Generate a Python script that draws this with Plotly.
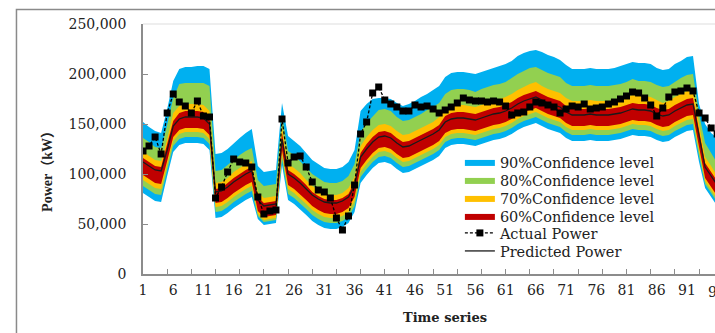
import numpy as np
import plotly.graph_objects as go

# ---------------- data (thousands of kW) ----------------
time_index = list(range(1, 97))
x_label_values = [1, 6, 11, 16, 21, 26, 31, 36, 41, 46, 51, 56, 61, 66, 71, 76, 81, 86, 91]

actual_power = [
    123, 128, 137, 120, 161, 180, 172, 168, 161, 173,
    158, 157, 76, 87, 102, 115, 112, 111, 107, 77,
    60, 63, 64, 155, 111, 117, 118, 107, 92, 84,
    82, 76, 56, 44, 58, 89, 140, 152, 181, 187,
    174, 170, 167, 163, 163, 169, 167, 168, 165, 161,
    164, 167, 171, 176, 174, 173, 173, 172, 173, 172,
    168, 159, 161, 162, 167, 172, 171, 169, 167, 161,
    165, 168, 167, 170, 165, 166, 167, 170, 172, 175,
    178, 182, 181, 176, 169, 158, 166, 177, 182, 183,
    186, 183, 161, 156, 146, 140]

predicted_power = [
    112, 108, 104, 103, 124, 148, 155, 157, 157, 157,
    156, 150, 82, 83, 87, 92, 96, 100, 103, 74,
    68, 69, 70, 135, 100, 96, 91, 85, 79, 75,
    72, 71, 71, 73, 77, 88, 117, 125, 132, 137,
    138, 136, 131, 127, 128, 131, 134, 137, 140, 144,
    152, 155, 156, 156, 155, 154, 156, 158, 160, 161,
    163, 166, 170, 173, 175, 177, 174, 171, 169, 167,
    162, 159, 159, 159, 160, 159, 159, 159, 160, 161,
    163, 165, 164, 164, 163, 160, 158, 159, 163, 166,
    169, 170, 138, 107, 98, 89]

upper_90 = [
    152, 147, 143, 141, 165, 193, 205, 207, 207, 208,
    208, 205, 120, 121, 125, 131, 136, 141, 145, 108,
    102, 103, 104, 171, 138, 133, 128, 121, 114, 110,
    106, 105, 105, 107, 112, 124, 163, 170, 175, 176,
    176, 175, 171, 168, 170, 173, 177, 180, 184, 188,
    197, 201, 202, 202, 201, 200, 202, 204, 206, 208,
    210, 213, 218, 221, 223, 224, 222, 219, 217, 214,
    209, 205, 205, 205, 206, 205, 205, 205, 206, 208,
    210, 212, 211, 211, 210, 206, 204, 205, 210, 213,
    217, 218, 170, 150, 141, 136]
lower_90 = [
    81, 77, 73, 72, 98, 122, 129, 131, 131, 131,
    130, 124, 56, 57, 61, 66, 70, 74, 77, 55,
    49, 50, 51, 109, 74, 70, 65, 59, 53, 49,
    46, 45, 45, 47, 51, 62, 91, 99, 106, 111,
    112, 110, 105, 101, 102, 105, 108, 111, 114, 118,
    126, 129, 130, 130, 129, 128, 130, 132, 134, 135,
    137, 140, 144, 147, 149, 151, 148, 145, 143, 141,
    136, 133, 133, 133, 134, 133, 133, 133, 134, 135,
    137, 139, 138, 138, 137, 134, 132, 133, 137, 140,
    143, 144, 112, 86, 77, 68]

upper_80 = [
    136, 132, 127, 126, 149, 176, 190, 191, 191, 191,
    191, 188, 103, 104, 109, 114, 119, 123, 126, 94,
    88, 89, 90, 158, 123, 119, 113, 107, 100, 96,
    92, 91, 91, 93, 98, 110, 142, 151, 158, 164,
    165, 163, 157, 153, 154, 157, 160, 164, 167, 171,
    180, 184, 185, 185, 184, 182, 185, 187, 189, 190,
    192, 196, 200, 203, 206, 207, 204, 201, 199, 197,
    191, 188, 188, 188, 189, 188, 188, 188, 189, 190,
    192, 195, 193, 193, 192, 189, 187, 188, 192, 196,
    199, 200, 160, 131, 121, 111]
lower_80 = [
    88, 84, 80, 79, 104, 128, 135, 137, 137, 137,
    136, 130, 62, 63, 67, 72, 76, 80, 83, 58,
    52, 53, 54, 115, 80, 76, 71, 65, 59, 55,
    52, 51, 51, 53, 57, 68, 97, 105, 112, 117,
    118, 116, 111, 107, 108, 111, 114, 117, 120, 124,
    132, 135, 136, 136, 135, 134, 136, 138, 140, 141,
    143, 146, 150, 153, 155, 157, 154, 151, 149, 147,
    142, 139, 139, 139, 140, 139, 139, 139, 140, 141,
    143, 145, 144, 144, 143, 140, 138, 139, 143, 146,
    149, 150, 118, 90, 81, 72]

upper_70 = [
    123, 118, 114, 113, 135, 161, 168, 170, 170, 170,
    169, 163, 91, 92, 96, 102, 106, 110, 113, 82,
    76, 77, 78, 147, 110, 106, 101, 94, 88, 84,
    80, 79, 79, 81, 86, 97, 128, 137, 144, 149,
    150, 148, 143, 139, 140, 143, 146, 149, 152, 157,
    165, 168, 169, 169, 168, 167, 169, 171, 174, 175,
    177, 180, 184, 187, 190, 192, 188, 185, 183, 181,
    176, 173, 173, 173, 174, 173, 173, 173, 174, 175,
    177, 179, 178, 178, 177, 174, 171, 173, 177, 180,
    183, 184, 150, 117, 108, 98]
lower_70 = [
    94, 90, 86, 85, 109, 133, 140, 142, 142, 142,
    141, 135, 67, 68, 72, 77, 81, 85, 88, 60,
    54, 55, 56, 120, 85, 81, 76, 70, 64, 60,
    57, 56, 56, 58, 62, 73, 102, 110, 117, 122,
    123, 121, 116, 112, 113, 116, 119, 122, 125, 129,
    137, 140, 141, 141, 140, 139, 141, 143, 145, 146,
    148, 151, 155, 158, 160, 162, 159, 156, 154, 152,
    147, 144, 144, 144, 145, 144, 144, 144, 145, 146,
    148, 150, 149, 149, 148, 145, 143, 144, 148, 151,
    154, 155, 123, 93, 84, 75]

upper_60 = [
    116, 112, 108, 107, 129, 153, 161, 163, 163, 163,
    162, 156, 85, 86, 91, 96, 100, 104, 107, 77,
    71, 72, 73, 141, 104, 100, 95, 89, 82, 78,
    75, 74, 74, 76, 80, 92, 121, 130, 137, 142,
    143, 141, 136, 132, 133, 136, 139, 142, 145, 149,
    158, 161, 162, 162, 161, 160, 162, 164, 166, 167,
    169, 172, 176, 179, 181, 183, 180, 177, 175, 173,
    168, 165, 165, 165, 166, 165, 165, 165, 166, 167,
    169, 171, 170, 170, 169, 166, 164, 165, 169, 172,
    175, 176, 143, 111, 102, 93]
lower_60 = [
    99, 95, 91, 90, 113, 137, 144, 146, 146, 146,
    145, 139, 71, 72, 76, 81, 85, 89, 92, 63,
    57, 58, 59, 124, 89, 85, 80, 74, 68, 64,
    61, 60, 60, 62, 66, 77, 106, 114, 121, 126,
    127, 125, 120, 116, 117, 120, 123, 126, 129, 133,
    141, 144, 145, 145, 144, 143, 145, 147, 149, 150,
    152, 155, 159, 162, 164, 166, 163, 160, 158, 156,
    151, 148, 148, 148, 149, 148, 148, 148, 149, 150,
    152, 154, 153, 153, 152, 149, 147, 148, 152, 155,
    158, 159, 127, 96, 87, 78]

# ---------------- styling ----------------
FONT = "DejaVu Serif"
TXT = "#222222"
AXIS = "#8c8c8c"


def kw(values):
    return np.asarray(values, dtype=float) * 1000.0


t = np.asarray(time_index, dtype=float)
fig = go.Figure()

bands = [
    ("90%Confidence level", upper_90, lower_90, "#00B0F0", "legend"),
    ("80%Confidence level", upper_80, lower_80, "#92D050", "legend2"),
    ("70%Confidence level", upper_70, lower_70, "#FFC000", "legend3"),
    ("60%Confidence level", upper_60, lower_60, "#C00000", "legend4"),
]
for name, up, lo, col, leg in bands:
    fig.add_trace(go.Scatter(
        x=np.concatenate([t, t[::-1]]),
        y=np.concatenate([kw(up), kw(lo)[::-1]]),
        fill="toself", fillcolor=col, mode="lines",
        line=dict(width=0, color=col), name=name, legend=leg,
        hoverinfo="skip"))

fig.add_trace(go.Scatter(
    x=t, y=kw(predicted_power), mode="lines", name="Predicted Power",
    line=dict(color="#1a1a1a", width=1.3), legend="legend6"))
fig.add_trace(go.Scatter(
    x=t, y=kw(actual_power), mode="lines+markers", name="Actual Power",
    line=dict(color="black", width=1.3, dash="3px,2px"),
    marker=dict(symbol="square", size=7, color="black"),
    legend="legend5"))

# invisible trace to carry the label axis
fig.add_trace(go.Scatter(x=[1], y=[None], xaxis="x2", showlegend=False,
                         hoverinfo="skip", mode="markers"))

xr = [1, 95.64]
fig.update_layout(
    width=715, height=333,
    margin=dict(l=143, r=0, t=24, b=59),
    paper_bgcolor="white", plot_bgcolor="white",
    xaxis=dict(range=xr, tickmode="linear", tick0=5, dtick=4,
               showticklabels=False, ticks="inside", ticklen=5,
               tickcolor=AXIS, tickwidth=1, showline=True, linecolor=AXIS,
               linewidth=1.5, showgrid=False, zeroline=False),
    xaxis2=dict(range=xr, overlaying="x", anchor="y", side="bottom",
                tickmode="array", tickvals=x_label_values,
                ticktext=[str(v) for v in x_label_values],
                ticks="", showline=False, showgrid=False, zeroline=False,
                tickfont=dict(family=FONT, size=14, color=TXT),
                ticklabelstandoff=6),
    yaxis=dict(range=[0, 250000], tickmode="linear", tick0=0, dtick=50000,
               tickformat=",", ticks="inside", ticklen=5, tickcolor=AXIS,
               showline=True, linecolor=AXIS, linewidth=1.5,
               showgrid=False, zeroline=False,
               tickfont=dict(family=FONT, size=14, color=TXT),
               ticklabelstandoff=12),
)

leg_common = dict(xanchor="left", yanchor="middle", bgcolor="rgba(0,0,0,0)",
                  font=dict(family=FONT, size=14.5, color=TXT), borderwidth=0)
rows = [0.448, 0.376, 0.304, 0.232, 0.164, 0.092]
names = ["legend", "legend2", "legend3", "legend4", "legend5", "legend6"]
fig.update_layout(**{n: dict(x=0.554, y=r, **leg_common) for n, r in zip(names, rows)})

fig.add_annotation(text="<b>Power（kW）</b>", xref="paper", yref="paper",
                   x=-0.168, y=0.424, textangle=-90, showarrow=False,
                   xanchor="center", yanchor="middle",
                   font=dict(family="Liberation Serif, Noto Sans CJK SC", size=14, color=TXT))
fig.add_annotation(text="<b>Time series</b>", xref="paper", yref="paper",
                   x=0.528, y=-0.172, showarrow=False,
                   xanchor="center", yanchor="middle",
                   font=dict(family=FONT, size=13, color=TXT))
fig.add_annotation(text="96", xref="paper", yref="paper", x=1.003, y=-0.07,
                   showarrow=False, xanchor="center", yanchor="middle",
                   font=dict(family=FONT, size=14, color=TXT))

fig.add_shape(type="rect", xref="paper", yref="paper", x0=-0.2212, x1=1.3,
              y0=-0.6, y1=1.058, line=dict(color="#8a8a8a", width=1.5),
              fillcolor="rgba(0,0,0,0)", layer="below")
fig.add_shape(type="line", xref="paper", yref="paper", x0=0, x1=1.2, y0=1, y1=1,
              line=dict(color="#eeeeee", width=2), layer="below")

fig.write_html("out.html", config={"displayModeBar": False},
               post_script="document.body.style.margin='0';"
                           "document.body.style.overflow='hidden';")
